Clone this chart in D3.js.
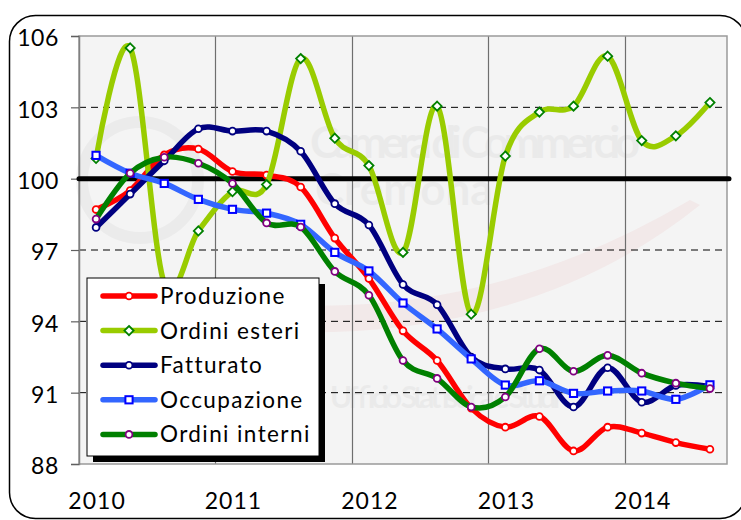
<!DOCTYPE html>
<html>
<head>
<meta charset="utf-8">
<script src="https://cdn.jsdelivr.net/npm/d3@7/dist/d3.min.js"></script>
<style>
  body { margin: 0; background: #fff; }
  text { font-family: Lato, "Open Sans", sans-serif; fill: #000; }
</style>
</head>
<body>
<div id="chart"></div>
<script>
// quarterly data, base 100
var quarters = ["2010 T1", "2010 T2", "2010 T3", "2010 T4",
                "2011 T1", "2011 T2", "2011 T3", "2011 T4",
                "2012 T1", "2012 T2", "2012 T3", "2012 T4",
                "2013 T1", "2013 T2", "2013 T3", "2013 T4",
                "2014 T1", "2014 T2", "2014 T3"];
var yearLabels = ["2010", "2011", "2012", "2013", "2014"];
var yTicks = [88, 91, 94, 97, 100, 103, 106];

var produzione    = [98.7, 99.5, 101.0, 101.25, 100.3, 100.15, 99.65, 97.5, 95.8, 93.6, 92.35, 90.35, 89.55, 90.0, 88.55, 89.55, 89.3, 88.9, 88.62];
var ordiniEsteri  = [100.85, 105.5, 95.6, 97.8, 99.45, 99.75, 105.05, 101.7, 100.55, 96.9, 103.05, 94.3, 100.95, 102.8, 103.05, 105.15, 101.6, 101.8, 103.2];
var fatturato     = [97.95, 99.35, 100.75, 102.1, 102.0, 102.0, 101.15, 98.95, 98.05, 95.55, 94.7, 92.5, 92.0, 91.95, 90.4, 92.05, 90.6, 91.3, 91.25];
var occupazione   = [100.98, 100.23, 99.8, 99.13, 98.71, 98.55, 98.08, 96.9, 96.12, 94.77, 93.68, 92.42, 91.32, 91.5, 90.97, 91.07, 91.07, 90.72, 91.33];
var ordiniInterni = [98.3, 100.23, 100.9, 100.65, 99.8, 98.14, 97.97, 96.1, 95.1, 92.35, 91.6, 90.4, 90.82, 92.85, 91.9, 92.57, 91.82, 91.4, 91.17];

var seriesNames  = ["Produzione", "Ordini esteri", "Fatturato", "Occupazione", "Ordini interni"];
var seriesValues = [produzione, ordiniEsteri, fatturato, occupazione, ordiniInterni];
var lineColors   = ["#ff0000", "#99cc00", "#000080", "#3366ff", "#008000"];
var markerColors = ["#ff0000", "#008000", "#000080", "#0000ff", "#800080"];
var markerTypes  = ["circle", "diamond", "circle", "square", "circle"];

var width = 741, height = 520,
    plot = {left: 79, right: 727, top: 36, bottom: 464};

var svg = d3.select('#chart')
    .append('svg')
    .attr('width', width)
    .attr('height', height);

// outer frame with rounded corners
svg.append('rect')
    .attr('x', 9.5).attr('y', 15.5)
    .attr('width', 736.5).attr('height', 503)
    .attr('rx', 26).attr('ry', 26)
    .style('fill', '#fff')
    .style('stroke', '#000')
    .style('stroke-width', 1.5);

var x = d3.scaleBand()
    .domain(quarters)
    .range([plot.left, plot.right])
    .padding(0);
var y = d3.scaleLinear()
    .domain([88, 106])
    .range([plot.bottom, plot.top]);
function cx(d, i) { return x(quarters[i]) + x.bandwidth() / 2; }

// plot background
svg.append('rect')
    .attr('x', plot.left).attr('y', plot.top)
    .attr('width', plot.right - plot.left).attr('height', plot.bottom - plot.top)
    .style('fill', '#f4f4f4');

// faint watermark
var wm = svg.append('g').style('opacity', 0.035);
wm.append('circle')
    .attr('cx', 140).attr('cy', 180).attr('r', 58)
    .style('fill', 'none').style('stroke', '#000').style('stroke-width', 12);
wm.append('text')
    .attr('x', 310).attr('y', 158)
    .style('font-size', '44px').style('font-weight', 'bold')
    .attr('textLength', 330)
    .text('Camera di Commercio');
wm.append('text')
    .attr('x', 315).attr('y', 205)
    .style('font-size', '44px').style('font-weight', 'bold')
    .text('Cremona');
wm.append('text')
    .attr('x', 330).attr('y', 408)
    .style('font-size', '30px').style('font-weight', 'bold')
    .attr('textLength', 230)
    .text('Ufficio Statistica e Studi');
svg.append('path')
    .attr('d', 'M230,300 Q470,330 690,200 L700,205 Q520,350 240,330 Z')
    .style('fill', '#e04040')
    .style('opacity', 0.06);

// dashed horizontal grid
svg.append('g').selectAll('line')
    .data(yTicks.filter(function (t) { return t !== 88 && t !== 106 && t !== 100; }))
    .enter().append('line')
    .attr('x1', plot.left).attr('x2', plot.right)
    .attr('y1', function (d) { return y(d); })
    .attr('y2', function (d) { return y(d); })
    .style('stroke', '#000')
    .style('stroke-width', 1)
    .style('stroke-dasharray', '7,5');

// vertical year grid
svg.append('g').selectAll('line')
    .data(yearLabels.slice(1))
    .enter().append('line')
    .attr('x1', function (d) { return Math.round(x(d + ' T1')) + 0.5; })
    .attr('x2', function (d) { return Math.round(x(d + ' T1')) + 0.5; })
    .attr('y1', plot.top).attr('y2', plot.bottom)
    .style('stroke', '#6e6e6e')
    .style('stroke-width', 1.2);

// plot border
svg.append('rect')
    .attr('x', plot.left).attr('y', plot.top)
    .attr('width', plot.right - plot.left).attr('height', plot.bottom - plot.top)
    .style('fill', 'none')
    .style('stroke', '#9a9a9a')
    .style('stroke-width', 1.5);

// y axis
var yAxis = svg.append('g')
    .attr('transform', 'translate(' + plot.left + ',0)')
    .call(d3.axisLeft(y).tickValues(yTicks).tickSize(8).tickPadding(12));
yAxis.select('.domain').style('stroke', '#808080').style('stroke-width', 1.5);
yAxis.selectAll('.tick line').style('stroke', '#606060').style('stroke-width', 1.2);
yAxis.selectAll('.tick text')
    .style('font-size', '23px')
    .style('letter-spacing', '0.6px')
    .style('font-family', 'Lato, sans-serif')
    .attr('dy', '0.42em');

// x axis labels
svg.append('g').selectAll('text')
    .data(yearLabels)
    .enter().append('text')
    .attr('x', function (d) { return x(d + ' T1') + x.bandwidth() / 2 + 1; })
    .attr('y', 509)
    .attr('text-anchor', 'middle')
    .style('font-size', '23px')
    .style('letter-spacing', '1px')
    .text(function (d) { return d; });

// reference line at 100
svg.append('line')
    .attr('x1', plot.left).attr('x2', plot.right + 2)
    .attr('y1', y(100)).attr('y2', y(100))
    .style('stroke', '#000')
    .style('stroke-width', 5)
    .style('stroke-linecap', 'round');

function drawMarker(sel, type, color) {
    if (type === 'circle') {
        sel.append('circle')
            .attr('r', 3.4)
            .style('fill', '#fff')
            .style('stroke', color)
            .style('stroke-width', 1.8);
    } else if (type === 'square') {
        sel.append('rect')
            .attr('x', -3.6).attr('y', -3.6)
            .attr('width', 7.2).attr('height', 7.2)
            .style('fill', '#fff')
            .style('stroke', color)
            .style('stroke-width', 2);
    } else {
        sel.append('path')
            .attr('d', 'M0,-4.6L4.6,0L0,4.6L-4.6,0Z')
            .style('fill', '#fff')
            .style('stroke', color)
            .style('stroke-width', 1.8);
    }
}

var line = d3.line()
    .x(cx)
    .y(function (d) { return y(d); })
    .curve(d3.curveCardinal.tension(0));

var s, g, pts;
for (s = 0; s < seriesValues.length; s += 1) {
    g = svg.append('g').attr('class', 'series');
    g.append('path')
        .attr('d', line(seriesValues[s]))
        .style('fill', 'none')
        .style('stroke', lineColors[s])
        .style('stroke-width', 5.5)
        .style('stroke-linejoin', 'round')
        .style('stroke-linecap', 'round');
    pts = g.selectAll('.pt')
        .data(seriesValues[s])
        .enter().append('g')
        .attr('class', 'pt')
        .attr('transform', function (d, i) { return 'translate(' + cx(d, i) + ',' + y(d) + ')'; });
    drawMarker(pts, markerTypes[s], markerColors[s]);
}

// legend
var legend = svg.append('g').attr('transform', 'translate(87,278)');
legend.append('rect')
    .attr('x', 6).attr('y', 6)
    .attr('width', 232).attr('height', 178)
    .style('fill', '#000');
legend.append('rect')
    .attr('x', 0).attr('y', 0)
    .attr('width', 232).attr('height', 178)
    .style('fill', '#fff')
    .style('stroke', '#000')
    .style('stroke-width', 1);

var items = legend.selectAll('.item')
    .data(seriesNames)
    .enter().append('g')
    .attr('class', 'item')
    .attr('transform', function (d, i) { return 'translate(0,' + (18 + i * 34.6) + ')'; });
items.append('line')
    .attr('x1', 16).attr('x2', 68)
    .attr('y1', 0).attr('y2', 0)
    .style('stroke', function (d, i) { return lineColors[i]; })
    .style('stroke-width', 5.5)
    .style('stroke-linecap', 'round');
items.each(function (d, i) {
    var m = d3.select(this).append('g').attr('transform', 'translate(42,0)');
    drawMarker(m, markerTypes[i], markerColors[i]);
});
items.append('text')
    .attr('x', 73)
    .attr('y', 8)
    .style('font-size', '22.5px')
    .style('letter-spacing', '1.4px')
    .text(function (d) { return d; });
</script>
</body>
</html>
